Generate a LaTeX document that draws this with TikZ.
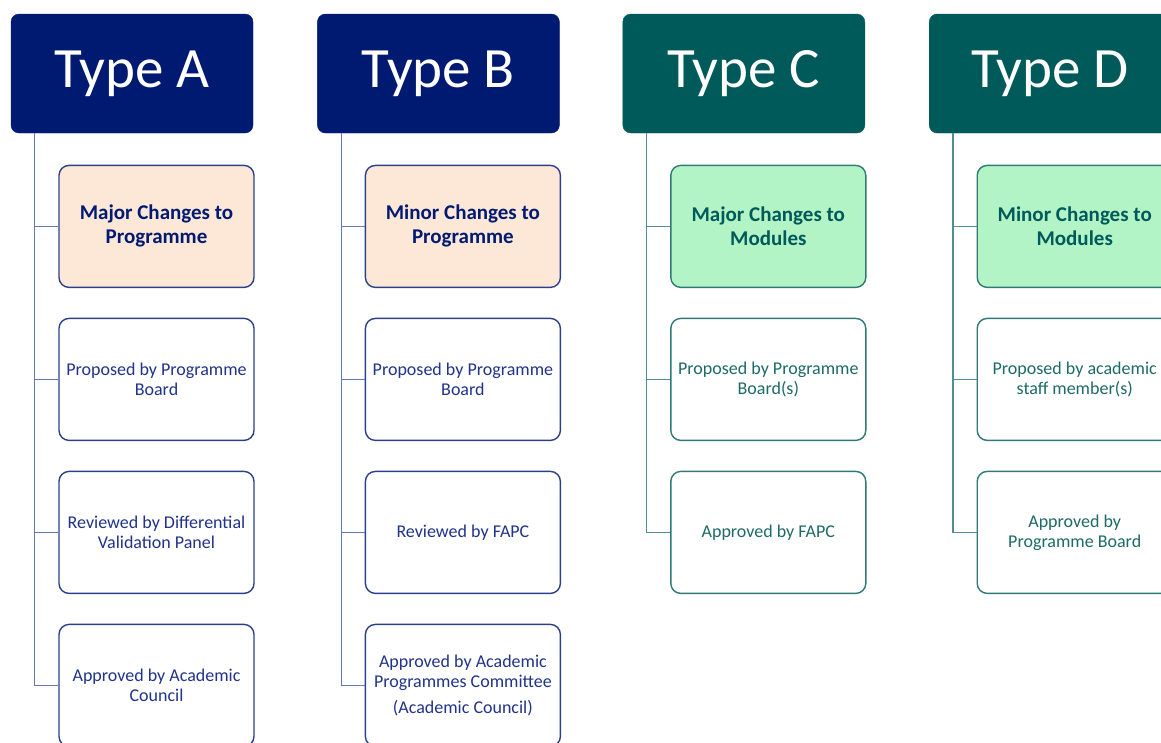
\documentclass[tikz,border=0pt]{standalone}
\usepackage{fontspec}
\setmainfont{Carlito}
\usetikzlibrary{positioning}

\definecolor{navy}{HTML}{001A72}
\definecolor{deepteal}{HTML}{005A5A}
\definecolor{peach}{HTML}{FDE8D7}
\definecolor{mint}{HTML}{B3F4C6}
\definecolor{navyline}{HTML}{2B3F8C}
\definecolor{tealline}{HTML}{2F7A77}
\definecolor{navytext}{HTML}{21338A}
\definecolor{tealtext}{HTML}{1D6A69}
\definecolor{branchblue}{HTML}{6479BC}
\definecolor{branchteal}{HTML}{4E8F93}

\tikzset{
  typehead/.style={draw=#1, fill=#1, rounded corners=8pt, minimum width=242pt,
    minimum height=119pt, text=white, inner sep=0pt,
    font=\fontsize{57}{60}\selectfont},
  childbox/.style={rounded corners=10pt, line width=1.4pt, minimum width=195pt,
    minimum height=122pt, align=center, inner sep=2pt},
  bluehead/.style={childbox, draw=navyline, fill=peach, text=navy,
    font=\bfseries\fontsize{21}{24}\selectfont},
  bluestep/.style={childbox, draw=navyline, fill=white, text=navytext,
    font=\fontsize{18}{20}\selectfont},
  tealhead/.style={childbox, draw=tealline, fill=mint, text=deepteal,
    font=\bfseries\fontsize{21}{24}\selectfont},
  tealstep/.style={childbox, draw=tealline, fill=white, text=tealtext,
    font=\fontsize{18}{20}\selectfont},
  branch/.style={line width=1.2pt, draw=#1}
}

\begin{document}
\begin{tikzpicture}[x=1pt, y=-1pt]
			\useasboundingbox (0,0) rectangle (1161,742);

			\node[typehead=navy] (TypeA) at (132,73.5) {Type A};
			\node[typehead=navy] (TypeB) [right=64pt of TypeA] {Type B};
			\node[typehead=deepteal] (TypeC) [right=63pt of TypeB] {Type C};
			\node[typehead=deepteal] (TypeD) [right=64pt of TypeC] {Type D};

			% Type A
			\node[bluehead] (A1) [below=31.5pt of TypeA, xshift=24.5pt] {Major Changes to\\Programme};
			\node[bluestep] (A2) [below=29.6pt of A1] {Proposed by Programme\\Board};
			\node[bluestep] (A3) [below=29.6pt of A2] {Reviewed by Differential\\Validation Panel};
			\node[bluestep] (A4) [below=29.6pt of A3] {Approved by Academic\\Council};

			% Type B
			\node[bluehead] (B1) [below=31.5pt of TypeB, xshift=24.5pt] {Minor Changes to\\Programme};
			\node[bluestep] (B2) [below=29.6pt of B1] {Proposed by Programme\\Board};
			\node[bluestep] (B3) [below=29.6pt of B2] {Reviewed by FAPC};
			\node[bluestep] (B4) [below=29.6pt of B3] {Approved by Academic\\Programmes Committee\\[6pt](Academic Council)};

			% Type C
			\node[tealhead] (C1) [below=31.5pt of TypeC, xshift=24.5pt] {Major Changes to\\Modules};
			\node[tealstep] (C2) [below=29.6pt of C1] {Proposed by Programme\\Board(s)};
			\node[tealstep] (C3) [below=29.6pt of C2] {Approved by FAPC};

			% Type D
			\node[tealhead] (D1) [below=31.5pt of TypeD, xshift=24.5pt] {Minor Changes to\\Modules};
			\node[tealstep] (D2) [below=29.6pt of D1] {Proposed by academic\\staff member(s)};
			\node[tealstep] (D3) [below=29.6pt of D2] {Approved by\\Programme Board};

			\coordinate (Atrunk) at ([xshift=24pt]TypeA.south west);
			\coordinate (Btrunk) at ([xshift=24pt]TypeB.south west);
			\coordinate (Ctrunk) at ([xshift=24pt]TypeC.south west);
			\coordinate (Dtrunk) at ([xshift=24pt]TypeD.south west);

			\foreach \c in {A1,A2,A3,A4} \draw[branch=branchblue] (Atrunk) |- (\c.west);
			\foreach \c in {B1,B2,B3,B4} \draw[branch=branchblue] (Btrunk) |- (\c.west);
			\foreach \c in {C1,C2,C3} \draw[branch=branchteal] (Ctrunk) |- (\c.west);
			\foreach \c in {D1,D2,D3} \draw[branch=branchteal] (Dtrunk) |- (\c.west);

		\end{tikzpicture}
\end{document}
